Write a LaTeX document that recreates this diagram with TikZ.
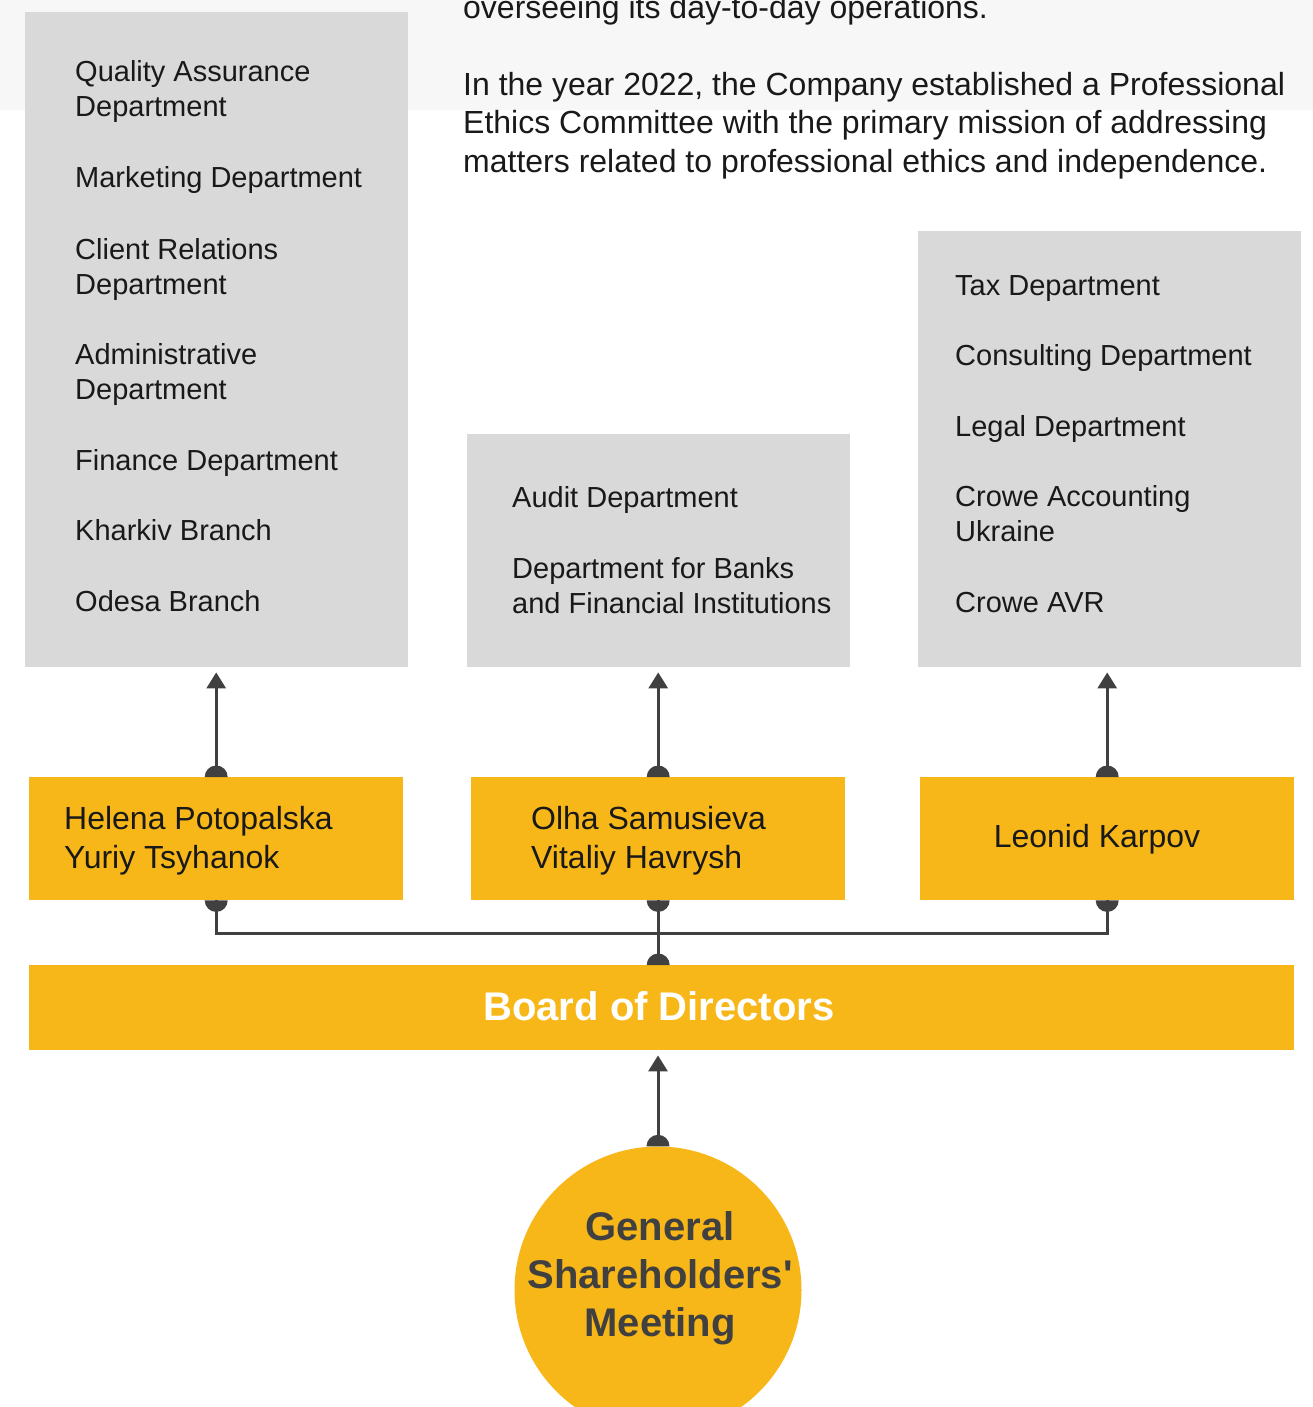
\documentclass[tikz,border=0pt]{standalone}
\usepackage{fontspec}
\setmainfont{Liberation Sans}[Ligatures=TeXOff]
\usepackage{xcolor}
\usetikzlibrary{arrows.meta,positioning}

\definecolor{crowegold}{HTML}{F8B718}
\definecolor{deptgray}{HTML}{D9D9D9}
\definecolor{bandgray}{HTML}{F7F7F7}
\definecolor{linegray}{HTML}{404040}

\tikzset{
  deptbox/.style={fill=deptgray, inner sep=0pt, anchor=north west, minimum width=383pt},
  headbox/.style={fill=crowegold, inner sep=0pt, anchor=north west, minimum width=374pt, minimum height=123pt},
  item/.style={anchor=base west, align=left, inner sep=0pt, text=black!90, font=\fontsize{29}{35}\selectfont},
  para/.style={anchor=base west, align=left, inner sep=0pt, text=black!90, font=\fontsize{32}{38}\selectfont},
  head/.style={anchor=base west, align=left, inner sep=0pt, text=black!90, font=\fontsize{32}{39}\selectfont},
  ln/.style={draw=linegray, line width=3pt},
  arr/.style={ln, -{Triangle[length=16pt,width=19pt]}, shorten >=5pt},
}

\begin{document}
\begin{tikzpicture}[x=1pt,y=1pt]
  \useasboundingbox (0,0) rectangle (1313,-1407);
  % Top band
  \fill[bandgray] (0,0) rectangle (1313,-110);
  % Department boxes
  \node[deptbox, minimum height=655pt] (left) at (25,-12) {};
  \node[deptbox, minimum height=233pt] (mid) at (467,-434) {};
  \node[deptbox, minimum height=436pt] (right) at (918,-231) {};
  % Text at the top (base = last line)
  \node[para] (ops) at (463,-19) {overseeing its day-to-day operations.};
  \node[para] (ethics) at (463,-172) {In the year 2022, the Company established a Professional\\
    Ethics Committee with the primary mission of addressing\\
    matters related to professional ethics and independence.};
  % Department names
  \foreach \nm/\yy/\txt in {qa/117/{Quality Assurance\\Department}, mk/188/{Marketing Department},
      cr/294/{Client Relations\\Department}, ad/399/{Administrative\\Department},
      fin/470/{Finance Department}, kh/540/{Kharkiv Branch}, od/611/{Odesa Branch}}
    \node[item] (\nm) at (75,-\yy) {\txt};
  \foreach \nm/\yy/\txt in {au/507/{Audit Department}, bk/613/{Department for Banks\\and Financial Institutions}}
    \node[item] (\nm) at (512,-\yy) {\txt};
  \foreach \nm/\yy/\txt in {tax/295/{Tax Department}, cons/365/{Consulting Department},
      leg/436/{Legal Department}, ca/541/{Crowe Accounting\\Ukraine}, avr/612/{Crowe AVR}}
    \node[item] (\nm) at (955,-\yy) {\txt};
  % Directors
  \node[headbox] (hp) at (29,-777) {};
  \node[headbox] (os) at (471,-777) {};
  \node[headbox] (lk) at (920,-777) {};
  \node[head] (hptxt) at (64,-868) {Helena Potopalska\\Yuriy Tsyhanok};
  \node[head] (ostxt) at (531,-868) {Olha Samusieva\\Vitaliy Havrysh};
  \node[head, anchor=base] (lktxt) at (1097,-847) {Leonid Karpov};
  % Board and meeting
  \node[fill=crowegold, inner sep=0pt, anchor=north west, minimum width=1265pt, minimum height=85pt] (bd) at (29,-965) {};
  \node[anchor=base, inner sep=0pt, text=white, font=\fontsize{40}{48}\selectfont\bfseries] (bdtxt) at (659,-1020) {Board of Directors};
  \node[circle, fill=crowegold, inner sep=0pt, minimum size=287pt] (gm) at (658,-1290) {};
  \node[anchor=base, align=center, inner sep=0pt, text=linegray, font=\fontsize{40}{48}\selectfont\bfseries] (gmtxt) at (660,-1336) {General\\Shareholders'\\Meeting};
  % Arrows up to the departments
  \draw[arr] (hp.north) -- (hp.north |- left.south);
  \draw[arr] (os.north) -- (os.north |- mid.south);
  \draw[arr] (lk.north) -- (lk.north |- right.south);
  \draw[arr] (gm.north) -- (gm.north |- bd.south);
  % Links to the board
  \draw[ln] (hp.south) -- ++(0,-33) -| (lk.south);
  \draw[ln] (os.south) -- (os.south |- bd.north);
  % Dots
  \foreach \n in {hp,os,lk,gm}
    \fill[linegray] (\n.north) ++(-11.5,0) arc[start angle=180, end angle=0, radius=11.5] -- cycle;
  \foreach \n in {hp,os,lk}
    \fill[linegray] (\n.south) ++(-11.5,0) arc[start angle=180, end angle=360, radius=11.5] -- cycle;
  \fill[linegray] (os.south |- bd.north) ++(-11.5,0) arc[start angle=180, end angle=0, radius=11.5] -- cycle;
\end{tikzpicture}
\end{document}
